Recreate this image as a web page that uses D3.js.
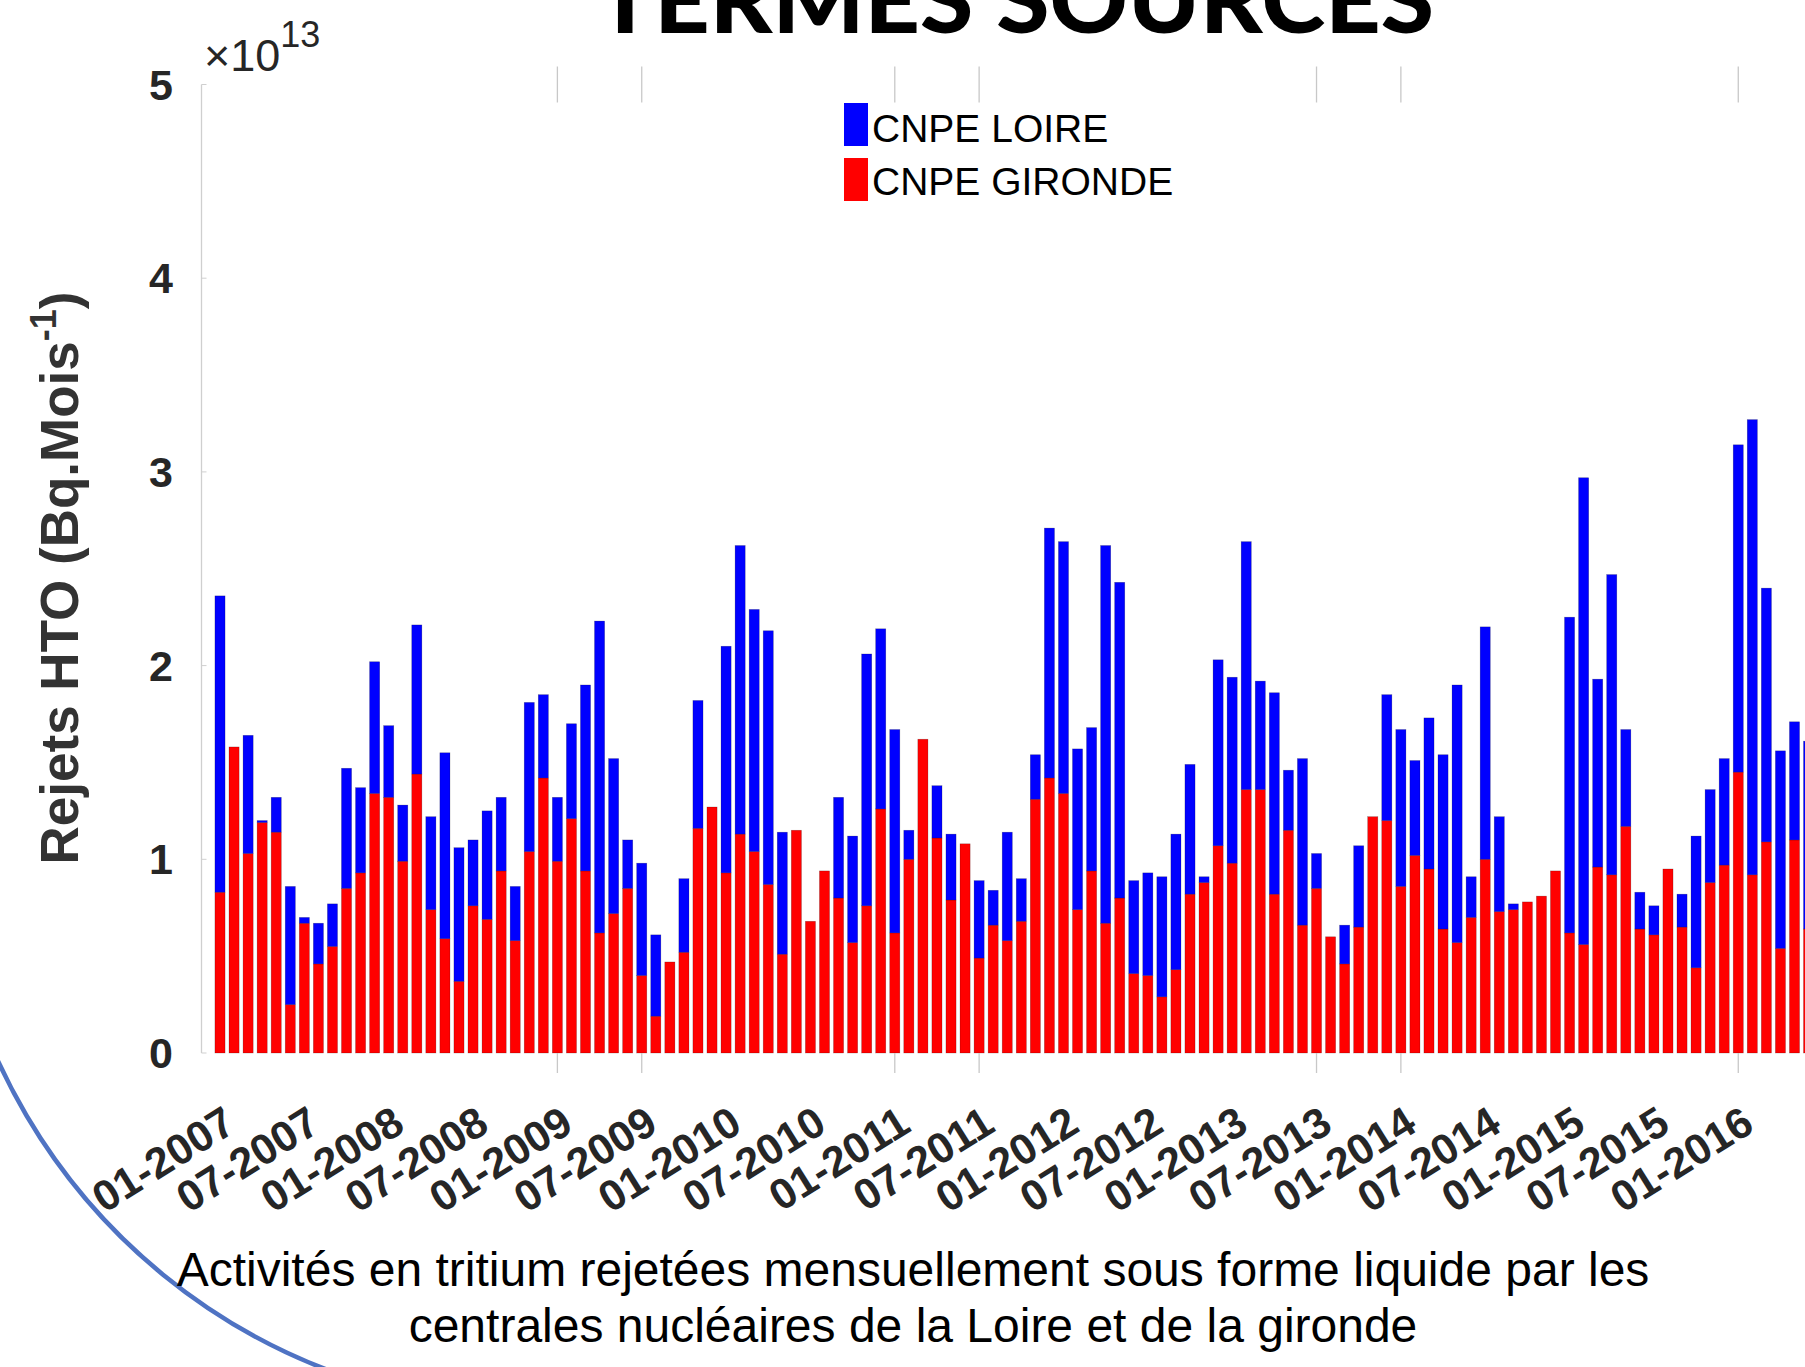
<!DOCTYPE html>
<html>
<head>
<meta charset="utf-8">
<script src="https://cdn.jsdelivr.net/npm/d3@7"></script>
<style>
  body { margin: 0; background: #fff; }
  svg { display: block; font-family: "Liberation Sans", Arial, sans-serif; }
</style>
</head>
<body>
<div id="graf"></div>
<script>
// Rejets mensuels (x 1e13 Bq), de 01-2007 a 06-2016
const gironde = [0.83,1.58,1.03,1.19,1.14,0.25,0.67,0.46,0.55,0.85,
  0.93,1.34,1.32,0.99,1.44,0.74,0.59,0.37,0.76,0.69,
  0.94,0.58,1.04,1.42,0.99,1.21,0.94,0.62,0.72,0.85,
  0.40,0.19,0.47,0.52,1.16,1.27,0.93,1.13,1.04,0.87,
  0.51,1.15,0.68,0.94,0.80,0.57,0.76,1.26,0.62,1.00,
  1.62,1.11,0.79,1.08,0.49,0.66,0.58,0.68,1.31,1.42,
  1.34,0.74,0.94,0.67,0.80,0.41,0.40,0.29,0.43,0.82,
  0.88,1.07,0.98,1.36,1.36,0.82,1.15,0.66,0.85,0.60,
  0.46,0.65,1.22,1.20,0.86,1.02,0.95,0.64,0.57,0.70,
  1.00,0.73,0.74,0.78,0.81,0.94,0.62,0.56,0.96,0.92,
  1.17,0.64,0.61,0.95,0.65,0.44,0.88,0.97,1.45,0.92,
  1.09,0.54,1.10,0.64]

const loire = [1.53,0,0.61,0.01,0.18,0.61,0.03,0.21,0.22,0.62,
  0.44,0.68,0.37,0.29,0.77,0.48,0.96,0.69,0.34,0.56,
  0.38,0.28,0.77,0.43,0.33,0.49,0.96,1.61,0.80,0.25,
  0.58,0.42,0,0.38,0.66,0,1.17,1.49,1.25,1.31,
  0.63,0,0,0,0.52,0.55,1.30,0.93,1.05,0.15,
  0,0.27,0.34,0,0.40,0.18,0.56,0.22,0.23,1.29,
  1.30,0.83,0.74,1.95,1.63,0.48,0.53,0.62,0.70,0.67,
  0.03,0.96,0.96,1.28,0.56,1.04,0.31,0.86,0.18,0,
  0.20,0.42,0,0.65,0.81,0.49,0.78,0.90,1.33,0.21,
  1.20,0.49,0.03,0,0,0,1.63,2.41,0.97,1.55,
  0.50,0.19,0.15,0,0.17,0.68,0.48,0.55,1.69,2.35,
  1.31,1.02,0.61,0.97]

// Mois (categories)
const mois = d3.timeMonth.range(new Date(2007, 0, 1), new Date(2016, 6, 1))

// Etiquettes de l'axe X (tous les 6 mois)
const etiquettesX = ['01-2007','07-2007','01-2008','07-2008','01-2009','07-2009',
  '01-2010','07-2010','01-2011','07-2011','01-2012','07-2012','01-2013','07-2013',
  '01-2014','07-2014','01-2015','07-2015','01-2016']

// Petites graduations visibles sur l'axe X
const graduationsX = ['01-2009','07-2009','01-2011','07-2011','07-2013','01-2014','01-2016']

const ticksY = [0, 1, 2, 3, 4, 5]

const series = ['CNPE LOIRE', 'CNPE GIRONDE']
const couleurs = ['#0000ff', '#ff0000']

const legende = ['Activités en tritium rejetées mensuellement sous forme liquide par les',
  'centrales nucléaires de la Loire et de la gironde']

// Tailles
const ancho = 1805
const alto = 1367
const yBas = 1053
const yHaut = 84.5
const xAxe = 201.5
const pas = 14.058

const fmt = d3.timeFormat('%m-%Y')
const data = mois.map((m, i) => ({ mois: fmt(m), gironde: gironde[i], loire: loire[i] }))

const svg = d3.select('#graf')
  .append('svg')
  .attr('width', ancho)
  .attr('height', alto)

// Arc decoratif en bas a gauche
svg.append('path')
  .attr('d', d3.arc()({ innerRadius: 596, outerRadius: 596, startAngle: -Math.PI, endAngle: -Math.PI / 2 - 0.2 }))
  .attr('transform', 'translate(540, 813)')
  .attr('fill', 'none')
  .attr('stroke', '#4f73c3')
  .attr('stroke-width', 4.5)

// Echelles
const xScale = d3.scaleBand()
  .domain(data.map(d => d.mois))
  .range([220 - pas / 2, 220 - pas / 2 + pas * data.length])
  .paddingInner(0.28)
  .paddingOuter(0.14)

const yScale = d3.scaleLinear()
  .domain([0, 5])
  .range([yBas, yHaut])

const stack = d3.stack().keys(['gironde', 'loire'])(data)

// Barres empilees
svg.append('g')
  .selectAll('g')
  .data(stack)
  .join('g')
  .attr('fill', (d, i) => i === 0 ? couleurs[1] : couleurs[0])
  .selectAll('rect')
  .data(d => d)
  .join('rect')
  .attr('x', d => xScale(d.data.mois))
  .attr('y', d => yScale(d[1]))
  .attr('width', xScale.bandwidth())
  .attr('height', d => Math.max(0, yScale(d[0]) - yScale(d[1])))
  .attr('stroke', 'rgba(0,0,0,0.3)')
  .attr('stroke-width', 0.6)

// Axe Y
svg.append('line')
  .attr('x1', xAxe).attr('x2', xAxe)
  .attr('y1', yHaut).attr('y2', yBas)
  .attr('stroke', '#cfcfcf')
  .attr('stroke-width', 1.3)

svg.append('g')
  .selectAll('line')
  .data(ticksY)
  .join('line')
  .attr('x1', xAxe).attr('x2', xAxe + 5)
  .attr('y1', d => yScale(d)).attr('y2', d => yScale(d))
  .attr('stroke', '#cfcfcf')

svg.append('g')
  .selectAll('text')
  .data(ticksY)
  .join('text')
  .attr('x', 173)
  .attr('y', d => yScale(d) + 15)
  .attr('text-anchor', 'end')
  .attr('font-size', 43)
  .attr('font-weight', 'bold')
  .attr('fill', '#262626')
  .text(d => d)

// Multiplicateur
const mult = svg.append('text')
  .attr('x', 204)
  .attr('y', 71)
  .attr('font-size', 45)
  .attr('fill', '#262626')
mult.append('tspan').text('×10')
mult.append('tspan').attr('font-size', 36).attr('dy', -24).text('13')

// Titre de l'axe Y
const titreY = svg.append('text')
  .attr('transform', 'translate(78, 578) rotate(-90)')
  .attr('text-anchor', 'middle')
  .attr('font-size', 53)
  .attr('font-weight', 'bold')
  .attr('fill', '#333')
titreY.append('tspan').text('Rejets HTO (Bq.Mois')
titreY.append('tspan').attr('font-size', 36).attr('dy', -22).text('-1')
titreY.append('tspan').attr('dy', 22).text(')')

// Graduations X haut et bas
const gradX = svg.append('g')
graduationsX.forEach(m => {
  const cx = xScale(m) + xScale.bandwidth() / 2
  gradX.append('line')
    .attr('x1', cx).attr('x2', cx)
    .attr('y1', yHaut - 18).attr('y2', yHaut + 18)
    .attr('stroke', '#c8c8c8').attr('stroke-width', 1.3)
  gradX.append('line')
    .attr('x1', cx).attr('x2', cx)
    .attr('y1', yBas).attr('y2', yBas + 20)
    .attr('stroke', '#c8c8c8').attr('stroke-width', 1.3)
})

// Etiquettes X
svg.append('g')
  .selectAll('text')
  .data(etiquettesX)
  .join('text')
  .attr('transform', d => `translate(${xScale(d) + xScale.bandwidth() / 2 + 18}, 1130) rotate(-32)`)
  .attr('text-anchor', 'end')
  .attr('font-size', 43)
  .attr('font-weight', 'bold')
  .attr('fill', '#262626')
  .text(d => d)

// Titre
svg.append('text')
  .attr('x', 1015)
  .attr('y', 33)
  .attr('text-anchor', 'middle')
  .attr('font-family', 'Lato, "Open Sans", sans-serif')
  .attr('font-weight', 900)
  .attr('font-size', 92)
  .attr('textLength', 838)
  .attr('lengthAdjust', 'spacingAndGlyphs')
  .attr('fill', '#000')
  .text('TERMES SOURCES')

// Legende
const leg = svg.append('g')
series.forEach((s, i) => {
  leg.append('rect')
    .attr('x', 844).attr('y', 103 + i * 55)
    .attr('width', 24).attr('height', 43)
    .attr('fill', couleurs[i])
  leg.append('text')
    .attr('x', 872).attr('y', 142 + i * 53)
    .attr('font-size', 39)
    .attr('fill', '#000')
    .text(s)
})

// Texte du bas
svg.append('g')
  .selectAll('text')
  .data(legende)
  .join('text')
  .attr('x', 913)
  .attr('y', (d, i) => 1286 + i * 56)
  .attr('text-anchor', 'middle')
  .attr('font-size', 48)
  .attr('fill', '#000')
  .text(d => d)
</script>
</body>
</html>
